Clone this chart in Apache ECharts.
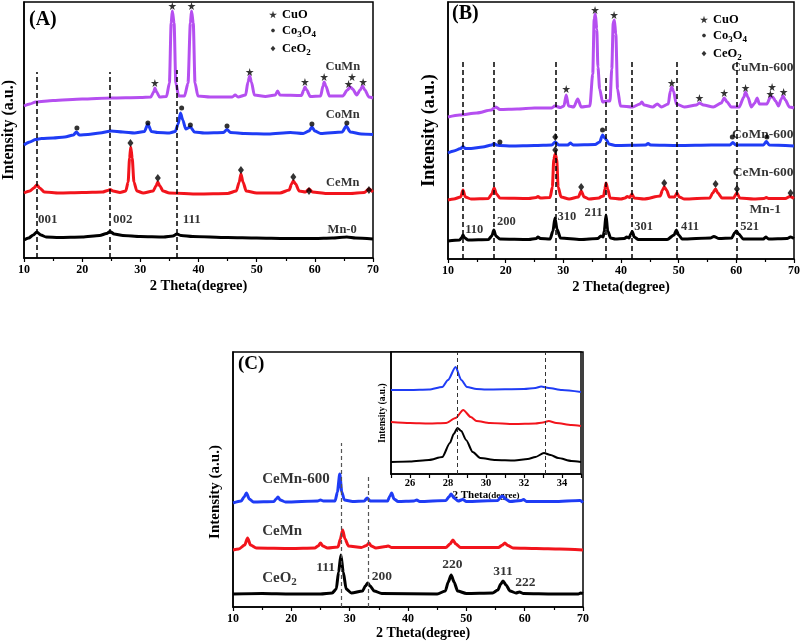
<!DOCTYPE html>
<html><head><meta charset="utf-8">
<script src="https://cdn.jsdelivr.net/npm/echarts@6/dist/echarts.min.js"></script>
<style>html,body{margin:0;padding:0;background:#fff}#c{width:803px;height:644px}</style>
</head><body><div id="c"></div><script>
const FONT = '"Liberation Serif","Times New Roman",Times,serif';
const C_BLACK = '#000000', C_RED = '#f2141c', C_BLUE = '#1f3cf5', C_PURPLE = '#b54ff0';

// ---------- axis ranges / tick labels ----------
const mainXRange = [10, 70];
const mainXStep = 10;
const insetXRange = [25, 35];
const insetXLabels = [26, 28, 30, 32, 34];

// ---------- Panel A (2 Theta, intensity a.u.) ----------
const aMn0 = [[10,18],[10.8,20],[11.6,23],[12.2,26],[12.9,23],[13.8,21],[16,20.5],[20,21],[23,22.5],[24.2,24.5],[24.8,26.5],[25.5,24],[27,22.5],[30,21.5],[34,21],[35.6,22],[36.3,24],[37,22.5],[39,21.5],[45,20.5],[50,20],[55,19.5],[60,19.5],[63,20],[65.5,21],[67,20],[70,19]];
const aCeMn = [[10,65],[11,67],[11.7,70],[12.2,73],[12.7,70],[13.5,66],[16,65],[20,65.5],[23.5,66],[24.4,67.5],[24.8,68.5],[25.3,67],[26.5,65.5],[27.5,67],[27.9,76],[28.15,100],[28.35,111],[28.6,100],[28.9,76],[29.4,67],[30.5,65],[32.2,67],[32.7,72],[33,76],[33.35,72],[33.9,67],[35,65],[40,64],[45,64.5],[46.5,67],[47,76],[47.3,84],[47.65,76],[48.2,67],[50,65],[54,65],[55.6,68],[56,74],[56.3,77],[56.7,74],[57.3,67],[58.4,66],[59,69],[59.6,66],[62,64.5],[66,64.5],[68.5,65.5],[69.3,69],[70,66]];
const aCoMn = [[10,113],[11,116],[12,118.5],[13,119.5],[15,120],[17,121],[18.5,123],[19,126],[19.5,123],[21,123.5],[23,125],[25,127],[27,126],[29,125],[30.7,126.5],[31.3,134],[31.9,126.5],[33,125.5],[35,125],[36,126.5],[36.5,134],[36.9,145],[37.3,138],[37.8,129],[38.6,131],[39.3,126],[41,125],[44.3,125.5],[44.9,128.5],[45.5,125.5],[48,124.5],[52,124],[55.8,125.5],[58,124.5],[59,127],[59.5,131],[60,127],[61,124.5],[64.7,126],[65.4,132],[66.1,126],[68,124],[70,123.5]];
const aCuMn = [[10,152],[11,154],[12,156],[15,157.5],[20,159],[25,160],[30,160.5],[31.8,161],[32.3,166],[32.5,170],[32.8,166],[33.3,161],[34.5,161.5],[35.0,175],[35.3,235],[35.5,247],[35.8,235],[36.1,175],[36.6,162],[37.6,162],[38.2,175],[38.6,235],[38.8,247],[39.1,235],[39.4,175],[39.9,162],[42,161],[45.8,161],[46.3,163],[46.8,161],[48.1,163],[48.5,176],[48.8,182],[49.1,176],[49.6,163],[51.5,161.5],[53.2,163],[53.6,167],[54,163],[57.7,162.5],[58.1,168],[58.3,171],[58.6,168],[59.2,161.5],[61,162],[61.4,172],[61.6,176],[61.9,172],[62.5,162],[64.8,162],[65.6,168],[66.1,171],[66.5,169],[67.2,163],[67.8,168],[68.2,172],[68.6,168],[69.3,161],[70,160]];
const aCuO = [[32.5,175],[35.5,252],[38.8,252],[48.8,186],[58.3,176],[61.6,181],[65.8,174],[66.4,181],[68.3,176]];
const aCo3O4 = [[19.1,130],[31.3,135],[37.1,150],[38.6,133],[44.9,132],[59.5,134],[65.5,135]];
const aCeO2 = [[28.3,115],[33,80],[47.3,88],[56.3,81],[59,67],[69.3,68]];
const aDashX = [12.2, 24.8, 36.3];
const aDashTop = [186, 186, 188];
const aSampleNames = [[64.8,191,'CuMn'],[64.8,143,'CoMn'],[64.8,75,'CeMn'],[64.7,28,'Mn-0']];
const aHkl = [[12.4,38,'001'],[25.3,38,'002'],[37.3,38,'111']];

// ---------- Panel B ----------
const bMn1 = [[10,18],[12,19],[12.4,21.5],[12.6,24],[12.9,21],[13.5,19],[17,19.5],[17.6,23],[17.95,29],[18.3,23],[19,20],[24,19.5],[25.3,20.5],[25.6,22],[26,20.5],[27.7,20],[28.2,28],[28.55,41],[28.9,30],[29.5,21],[33,19.5],[36,20.5],[36.5,23],[36.9,22],[37.1,28],[37.4,44],[37.7,28],[38.2,21],[39,20],[40.6,20.5],[41,22],[41.4,21],[41.7,25],[41.95,27.5],[42.3,22],[43,19.5],[48,19.5],[49.2,24],[49.6,29],[50,24],[50.6,20],[55.5,21],[56.1,22.5],[57,20.5],[59.2,21],[59.7,26],[60,28],[60.4,25],[61.2,20],[64.7,20],[65.1,22],[65.6,20],[68.8,20.5],[69.4,22],[70,20.5]];
const bCeMn600 = [[10,59],[11,60],[12.2,62],[12.6,69],[13,62],[14,60],[17,60.5],[17.6,65],[18,71],[18.4,65],[19,61],[24,60.5],[25.3,61.5],[25.6,62.5],[26,61],[27.7,61.5],[28.1,72],[28.35,100],[28.6,105],[28.85,100],[29.1,72],[29.6,62],[31,60],[32.6,62],[33.1,68],[33.6,62],[34.5,60],[36.2,61],[36.6,62.5],[37.0,63],[37.2,70],[37.4,76],[37.7,70],[38.1,61],[40,60],[40.7,61],[41.1,62.5],[41.5,61.5],[41.9,65],[42.3,61],[44,60],[46.8,63],[47.2,69],[47.5,72],[47.9,69],[48.4,62],[49.3,62],[49.7,66],[50.1,62],[51,60],[55.4,61],[55.9,66],[56.4,70],[56.8,66],[57.5,61],[59.5,61],[60.1,66],[60.6,61],[63,60],[64.8,60.5],[65.2,61.5],[65.6,60.5],[68.5,60.5],[69.3,62.5],[70,60.5]];
const bCoMn600 = [[10,106],[11,108],[12.2,110.5],[12.6,112.5],[13,110.5],[14,110.5],[16,112],[17.6,114],[18,115.5],[18.4,114],[19,113.5],[21,113],[25,113.5],[28,114],[28.6,117],[29.2,114],[30.8,114],[31.2,116],[31.7,114],[35.5,114.5],[36.3,117],[36.8,124],[37.2,121],[37.5,119],[37.9,115],[39,113.5],[44.3,114],[44.7,115.5],[45.1,114],[50,113.5],[55.7,114],[58.9,114],[59.4,116.5],[59.9,114],[64.7,114],[65.2,117.5],[65.7,114],[70,113]];
const bCuMn600 = [[10,142],[12,144],[15,146],[17.5,149],[18.3,152],[19,149.5],[22,150],[25,151],[28,151],[28.5,153],[29.5,151.5],[30.1,153],[30.5,164],[30.9,153],[31.8,152],[32.5,160],[33.1,152],[34.6,153],[35.1,185],[35.35,240],[35.55,245],[35.8,230],[36.0,192],[36.3,170],[36.8,157],[37.6,158],[38.1,158],[38.4,190],[38.65,236],[38.85,239],[39.1,225],[39.4,170],[39.9,153],[42,152],[43.3,155],[43.6,157],[44,154],[45.5,152],[46.3,155],[47,152],[48.2,155],[48.55,168],[48.8,172],[49.1,168],[49.6,155],[51,152],[53.1,154],[53.6,156],[54.3,154],[56,152],[57.4,156],[57.9,161],[58.4,157],[59.1,152],[60.5,152],[61.3,162],[61.6,167],[62,162],[62.6,152],[63.2,156],[63.6,161],[64,155],[65.3,155],[65.9,162],[66.3,162],[66.8,158],[67.3,153],[67.8,160],[68.1,163],[68.5,159],[69.2,152],[70,151]];
const bCuO = [[30.5,170],[35.5,249],[38.8,244],[48.8,176],[53.6,161],[57.9,166],[61.6,171],[65.9,165],[66.2,172],[68.2,167]];
const bCo3O4 = [[19,117],[36.8,129],[59.3,122],[65.3,122]];
const bCeO2 = [[28.6,122],[28.6,109],[33.1,72],[47.5,76],[56.4,75],[60.1,70],[69.4,66]];
const bDashX = [12.6, 18, 28.6, 37.4, 41.9, 49.7, 60];
const bDashTop = [199, 199, 199, 182, 199, 199, 199];
const bSampleNamesRight = [[69.9,191,'CuMn-600'],[69.9,124,'CoMn-600'],[69.9,86,'CeMn-600']];
const bSampleNamesCenter = [[65.0,49,'Mn-1']];
const bHkl = [[13.0,29,'110'],[18.5,37,'200'],[29.0,42,'310'],[33.65,46,'211'],[42.3,32,'301'],[50.4,32,'411'],[60.7,32,'521']];

// ---------- Panel C ----------
const cCeO2 = [[10,13],[15,13.5],[20,13],[25,13],[27,14],[27.7,18],[28.1,35],[28.5,52],[28.9,35],[29.4,18],[30.3,14],[32.2,16],[32.7,21],[33.1,24],[33.5,21],[34.2,16],[35.5,13.5],[45,13],[46.4,16],[46.9,25],[47.4,32],[47.9,25],[48.5,16],[50,13.5],[54.5,14],[55.4,17],[55.9,23],[56.3,26],[56.8,22],[57.5,16],[58.5,14],[59.1,15],[59.8,13.5],[65,13],[69.2,13],[69.6,14],[70,13.5]];
const cCeMn = [[10,57],[11,58],[12,62],[12.5,69],[13,62],[14,59],[20,58.5],[24,59],[24.6,61],[25,64],[25.4,61],[26.2,59],[28,60],[28.4,68],[28.8,77],[29.2,68],[29.8,61],[32,59.5],[32.9,61.5],[33.3,64],[33.7,61],[34.5,59],[36.2,60.5],[36.6,61],[37.2,59.5],[46.5,59.5],[47.2,63],[47.7,67],[48.2,63],[49,59.5],[55.5,59.5],[56.2,62],[56.6,64],[57.1,61.5],[58,59],[62,58.5],[66,58],[70,57]];
const cCeMn600 = [[10,104],[11.4,106],[11.9,110],[12.3,114],[12.8,108],[13.5,105],[17,105.5],[17.4,108],[17.7,110],[18.1,107],[19,105],[24.5,106],[25,107],[25.5,106],[27.5,106],[27.9,115],[28.3,133],[28.65,115],[29.1,107],[30.5,105.5],[32.5,106],[33,109],[33.5,106],[36.5,106],[36.9,111],[37.2,114],[37.6,108],[38.3,105.5],[41,106],[41.5,107],[42,105.5],[46.5,106.5],[47,110],[47.4,113],[47.9,109],[48.6,106],[49.4,107.5],[50,105.5],[55.4,106.5],[55.9,110],[56.2,111],[56.7,108],[57.5,105.5],[59.4,106.5],[59.8,107.5],[60.3,105.5],[65,105.5],[69.5,106.5],[70,104.5]];
const cDashX = [28.5, 33.1];
const cDashTop = [164, 130];
const cSampleNames = [[15.0,128,'CeMn-600'],[15.0,76,'CeMn'],[15.0,29,'CeO2']];
const cHklRight = [[27.5,39,'111']];
const cHklLeft = [[33.8,30,'200']];
const cHklCenter = [[47.6,42,'220'],[56.3,35,'311'],[60.1,24,'222']];

// ---------- Inset ----------
const iCeO2 = [[25,12],[26,12.5],[27,14],[27.7,17],[28.1,31],[28.3,40],[28.5,46],[28.7,43],[28.95,34],[29.3,22],[29.7,16],[30.5,14],[31.5,13.5],[32.2,15],[32.6,17],[33.05,21],[33.4,19],[33.8,16],[34.5,13],[35,12]];
const iCeMn = [[25,52],[26,51],[27,50.5],[27.9,51],[28.4,56],[28.8,64],[29.2,57],[29.5,53],[30.2,51],[31.5,50],[32.6,50.5],[33.0,51.5],[33.3,53],[33.7,51],[34.5,49],[35,48]];
const iCeMn600 = [[25,84],[26,84],[27,84.5],[27.7,87],[28,94],[28.4,107],[28.7,94],[29,87],[29.5,85],[30,84.5],[32,85],[32.6,86],[32.9,87.5],[33.3,86],[34,84],[35,82]];
const iDashX = [28.5, 33.1];
const iDashTop = [122, 122];

// ---------- helpers ----------
function chem(t) {
  const parts = t.split(/(?<=[A-Za-z])(\d)/);
  let s = '';
  parts.forEach((p, i) => { if (p === '') return; s += (i % 2 ? '{s|' : '{m|') + p + '}'; });
  return s;
}
function rich(size) {
  const sub = Math.round(size * 0.72);
  return {
    m: {fontFamily: FONT, fontWeight: 'bold', fontSize: size, color: '#000', lineHeight: size + 2},
    s: {fontFamily: FONT, fontWeight: 'bold', fontSize: sub, color: '#000', lineHeight: sub, padding: [Math.round(size * 0.6), 0, 0, 0]}
  };
}
const STAR = 'path://M50,0 L61,35 98,35 68,57 79,91 50,70 21,91 32,57 2,35 39,35Z';
// small icons drawn inside a 10x10 frame so the legend shows them smaller
const DOT_ICON = 'path://M0,0 M10,10 M5,2.6 L6.7,3.3 7.4,5 6.7,6.7 5,7.4 3.3,6.7 2.6,5 3.3,3.3Z';
const DIA_ICON = 'path://M0,0 M10,10 M5,1.5 L8,5 5,8.5 2,5Z';

function curve(data, color, g, width, mark) {
  const s = {type: 'line', xAxisIndex: g, yAxisIndex: g, data: data, symbol: 'none', showSymbol: false,
    smooth: 0.25, smoothMonotone: 'x', lineStyle: {color: color, width: width}, itemStyle: {color: color},
    silent: true, z: 3, animation: false};
  if (mark) s.markLine = mark;
  return s;
}
function dashes(xs, tops, color, width, dash) {
  return {silent: true, symbol: ['none', 'none'], label: {show: false}, animation: false,
    lineStyle: {color: color, width: width, type: dash},
    data: xs.map((x, i) => [{coord: [x, 0]}, {coord: [x, tops[i]]}])};
}
function marks(name, data, g, symbol, size) {
  return {type: 'scatter', name: name, xAxisIndex: g, yAxisIndex: g, data: data, symbol: symbol,
    symbolSize: size, itemStyle: {color: '#000'}, silent: true, z: 6, animation: false};
}
function labels(data, g, align, size) {
  return {type: 'scatter', xAxisIndex: g, yAxisIndex: g,
    data: data.map(d => ({value: [d[0], d[1]], name: d[2]})),
    symbolSize: 1, itemStyle: {color: 'rgba(0,0,0,0)'}, silent: true, z: 7, animation: false,
    label: {show: true, position: 'inside', align: align, verticalAlign: 'middle',
      formatter: p => chem(p.name), rich: rich(size)}};
}
function xAx(g, range, interval, name, gap, lblSize, nameSize, fmt) {
  return {type: 'value', gridIndex: g, min: range[0], max: range[1], interval: interval,
    name: name, nameLocation: 'middle', nameGap: gap,
    nameTextStyle: {fontFamily: FONT, fontWeight: 'bold', fontSize: nameSize, color: '#000'},
    axisLine: {lineStyle: {color: '#000', width: 1.5}},
    axisTick: {length: 4, lineStyle: {color: '#000', width: 1.2}},
    minorTick: {show: fmt ? false : true, splitNumber: 2, length: 3, lineStyle: {color: '#000', width: 1.2}},
    axisLabel: {fontFamily: FONT, fontWeight: 'bold', fontSize: lblSize, color: '#000', margin: fmt ? 4 : 6,
      formatter: fmt || (v => String(v))},
    splitLine: {show: false}};
}
function yAx(g, max, name, gap, nameSize) {
  return {type: 'value', gridIndex: g, min: 0, max: max,
    name: name, nameLocation: 'middle', nameGap: gap, nameRotate: 90,
    nameTextStyle: {fontFamily: FONT, fontWeight: 'bold', fontSize: nameSize, color: '#000'},
    axisLine: {show: true, lineStyle: {color: '#000', width: 1.5}},
    axisTick: {show: false}, axisLabel: {show: false}, splitLine: {show: false}};
}
function legendAt(left, top) {
  return {left: left, top: top, orient: 'vertical', padding: 0, itemGap: 1, itemWidth: 8, itemHeight: 8,
    selectedMode: false,
    data: [{name: 'CuO'}, {name: 'Co3O4', icon: DOT_ICON}, {name: 'CeO2', icon: DIA_ICON}],
    formatter: n => chem(n), textStyle: {rich: rich(12.5)}};
}

const chart = echarts.init(document.getElementById('c'), null, {renderer: 'canvas'});
chart.setOption({
  animation: false,
  backgroundColor: '#fff',
  grid: [
    {left: 24, top: 2, width: 349, height: 256, show: true, borderColor: '#000', borderWidth: 1.5},
    {left: 448, top: 2, width: 348, height: 257, show: true, borderColor: '#000', borderWidth: 1.5},
    {left: 233, top: 352, width: 350, height: 255, show: true, borderColor: '#000', borderWidth: 1.5},
    {left: 391, top: 352, width: 190, height: 122, show: true, borderColor: '#000', borderWidth: 1.5, backgroundColor: '#fff'}
  ],
  xAxis: [
    xAx(0, mainXRange, mainXStep, '2 Theta(degree)', 21, 12, 14.5),
    xAx(1, mainXRange, mainXStep, '2 Theta(degree)', 21, 12, 14.5),
    xAx(2, mainXRange, mainXStep, '', 21, 12, 14.5),
    Object.assign(xAx(3, insetXRange, 1, '{a|2 Theta}{b|(degree)}', 11, 10.5, 10.5,
      v => (insetXLabels.indexOf(v) >= 0 ? String(v) : '')), {
      nameTextStyle: {rich: {
        a: {fontFamily: FONT, fontWeight: 'bold', fontSize: 11, color: '#000'},
        b: {fontFamily: FONT, fontWeight: 'bold', fontSize: 9, color: '#000'}}}
    })
  ],
  yAxis: [
    yAx(0, 256, 'Intensity (a.u.)', 7, 16),
    yAx(1, 257, 'Intensity (a.u.)', 10, 18),
    yAx(2, 255, '', 8, 15),
    yAx(3, 122, 'Intensity (a.u.)', 3, 9.5)
  ],
  legend: [legendAt(269, 8), legendAt(700, 13)],
  graphic: [
    {type: 'text', x: 29, y: 20, style: {text: '(A)', font: 'bold 20px ' + FONT, fill: '#000', textAlign: 'left', textVerticalAlign: 'middle'}},
    {type: 'text', x: 452, y: 14, style: {text: '(B)', font: 'bold 20px ' + FONT, fill: '#000', textAlign: 'left', textVerticalAlign: 'middle'}},
    {type: 'text', x: 238, y: 364, style: {text: '(C)', font: 'bold 19px ' + FONT, fill: '#000', textAlign: 'left', textVerticalAlign: 'middle'}},
    {type: 'text', x: 215, y: 492, rotation: Math.PI / 2, style: {text: 'Intensity (a.u.)', font: 'bold 15px ' + FONT, fill: '#000', textAlign: 'center', textVerticalAlign: 'middle'}},
    {type: 'text', x: 423, y: 633, style: {text: '2 Theta(degree)', font: 'bold 14px ' + FONT, fill: '#000', textAlign: 'center', textVerticalAlign: 'middle'}}
  ],
  series: [
    // Panel A
    curve(aCuMn, C_PURPLE, 0, 3),
    curve(aCoMn, C_BLUE, 0, 3),
    curve(aCeMn, C_RED, 0, 3),
    curve(aMn0, C_BLACK, 0, 3, dashes(aDashX, aDashTop, '#000', 1.5, [5, 3])),
    marks('CuO', aCuO, 0, STAR, 8),
    marks('Co3O4', aCo3O4, 0, 'circle', 5),
    marks('CeO2', aCeO2, 0, 'diamond', [6, 8]),
    labels(aSampleNames, 0, 'center', 12.5),
    labels(aHkl, 0, 'left', 13),
    // Panel B
    curve(bCuMn600, C_PURPLE, 1, 3),
    curve(bCoMn600, C_BLUE, 1, 3),
    curve(bCeMn600, C_RED, 1, 3),
    curve(bMn1, C_BLACK, 1, 3, dashes(bDashX, bDashTop, '#000', 1.5, [5, 3])),
    marks('CuO', bCuO, 1, STAR, 8),
    marks('Co3O4', bCo3O4, 1, 'circle', 5),
    marks('CeO2', bCeO2, 1, 'diamond', [6, 8]),
    labels(bSampleNamesRight, 1, 'right', 13.5),
    labels(bSampleNamesCenter, 1, 'center', 13.5),
    labels(bHkl, 1, 'left', 12.5),
    // Panel C
    curve(cCeMn600, C_BLUE, 2, 3),
    curve(cCeMn, C_RED, 2, 3),
    curve(cCeO2, C_BLACK, 2, 3, dashes(cDashX, cDashTop, '#555', 1.2, [4, 3])),
    labels(cSampleNames, 2, 'left', 15),
    labels(cHklRight, 2, 'right', 13.5),
    labels(cHklLeft, 2, 'left', 13.5),
    labels(cHklCenter, 2, 'center', 13.5),
    // Inset
    curve(iCeMn600, C_BLUE, 3, 2),
    curve(iCeMn, C_RED, 3, 2),
    curve(iCeO2, C_BLACK, 3, 2, dashes(iDashX, iDashTop, '#333', 1, [4, 3]))
  ]
});
</script></body></html>
